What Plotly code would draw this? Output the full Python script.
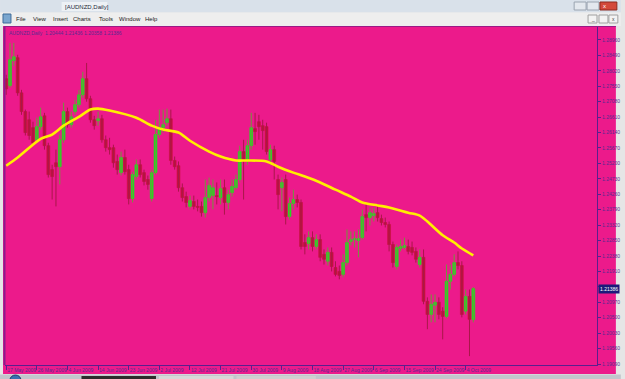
import plotly.graph_objects as go

# ---------------- data (AUDNZD daily) ----------------
opens = [1.2778, 1.2757, 1.2833, 1.2842, 1.2735, 1.2678, 1.2653, 1.2629, 1.2592, 1.2632,
         1.2665, 1.2574, 1.2501, 1.2522, 1.2510, 1.2592, 1.2678, 1.2638, 1.2678, 1.2699,
         1.2729, 1.2778, 1.2717, 1.2653, 1.2650, 1.2656, 1.2592, 1.2568, 1.2568, 1.2526,
         1.2492, 1.2538, 1.2501, 1.2413, 1.2480, 1.2516, 1.2492, 1.2471, 1.2413, 1.2492,
         1.2608, 1.2629, 1.2644, 1.2656, 1.2529, 1.2513, 1.2446, 1.2419, 1.2389, 1.2404,
         1.2389, 1.2389, 1.2370, 1.2416, 1.2422, 1.2422, 1.2416, 1.2446, 1.2401, 1.2431,
         1.2446, 1.2471, 1.2556, 1.2532, 1.2574, 1.2626, 1.2647, 1.2635, 1.2632, 1.2532,
         1.2562, 1.2471, 1.2446, 1.2471, 1.2358, 1.2398, 1.2410, 1.2401, 1.2279, 1.2276,
         1.2294, 1.2267, 1.2288, 1.2243, 1.2222, 1.2249, 1.2203, 1.2191, 1.2182, 1.2218,
         1.2282, 1.2288, 1.2285, 1.2294, 1.2364, 1.2355, 1.2361, 1.2370, 1.2352, 1.2340,
         1.2334, 1.2273, 1.2206, 1.2261, 1.2264, 1.2267, 1.2264, 1.2252, 1.2212, 1.2234,
         1.2100, 1.2060, 1.2088, 1.2097, 1.2070, 1.2054, 1.2161, 1.2182, 1.2218, 1.2209,
         1.2070, 1.2115, 1.20444]
highs = [1.2790, 1.2887, 1.2887, 1.2851, 1.2744, 1.2684, 1.2678, 1.2647, 1.2659, 1.2690,
         1.2674, 1.2583, 1.2516, 1.2562, 1.2608, 1.2705, 1.2690, 1.2678, 1.2714, 1.2744,
         1.2799, 1.2826, 1.2726, 1.2665, 1.2678, 1.2668, 1.2605, 1.2598, 1.2577, 1.2547,
         1.2556, 1.2562, 1.2516, 1.2495, 1.2532, 1.2532, 1.2501, 1.2483, 1.2501, 1.2653,
         1.2684, 1.2684, 1.2687, 1.2684, 1.2541, 1.2526, 1.2459, 1.2434, 1.2422, 1.2422,
         1.2410, 1.2404, 1.2471, 1.2477, 1.2471, 1.2462, 1.2471, 1.2471, 1.2440, 1.2471,
         1.2486, 1.2574, 1.2592, 1.2592, 1.2674, 1.2674, 1.2668, 1.2653, 1.2644, 1.2577,
         1.2574, 1.2486, 1.2477, 1.2486, 1.2416, 1.2440, 1.2425, 1.2410, 1.2304, 1.2313,
         1.2313, 1.2304, 1.2304, 1.2258, 1.2264, 1.2264, 1.2222, 1.2209, 1.2243, 1.2319,
         1.2313, 1.2313, 1.2319, 1.2380, 1.2395, 1.2386, 1.2386, 1.2395, 1.2364, 1.2355,
         1.2343, 1.2282, 1.2273, 1.2288, 1.2294, 1.2288, 1.2282, 1.2264, 1.2258, 1.2258,
         1.2112, 1.2121, 1.2121, 1.2112, 1.2082, 1.2212, 1.2212, 1.2243, 1.2252, 1.2222,
         1.2136, 1.2136, 1.21436]
lows = [1.2729, 1.2750, 1.2817, 1.2726, 1.2668, 1.2605, 1.2592, 1.2574, 1.2583, 1.2623,
        1.2562, 1.2477, 1.2410, 1.2389, 1.2456, 1.2583, 1.2629, 1.2629, 1.2668, 1.2690,
        1.2720, 1.2708, 1.2644, 1.2623, 1.2635, 1.2583, 1.2556, 1.2547, 1.2507, 1.2486,
        1.2483, 1.2486, 1.2395, 1.2401, 1.2471, 1.2477, 1.2453, 1.2440, 1.2404, 1.2486,
        1.2598, 1.2614, 1.2635, 1.2516, 1.2501, 1.2434, 1.2404, 1.2386, 1.2380, 1.2380,
        1.2374, 1.2358, 1.2355, 1.2404, 1.2380, 1.2395, 1.2395, 1.2364, 1.2380, 1.2419,
        1.2440, 1.2462, 1.2410, 1.2516, 1.2562, 1.2577, 1.2592, 1.2562, 1.2547, 1.2516,
        1.2471, 1.2380, 1.2374, 1.2334, 1.2349, 1.2380, 1.2386, 1.2258, 1.2243, 1.2258,
        1.2252, 1.2258, 1.2222, 1.2212, 1.2209, 1.2191, 1.2176, 1.2167, 1.2173, 1.2209,
        1.2270, 1.2264, 1.2234, 1.2288, 1.2313, 1.2331, 1.2343, 1.2343, 1.2331, 1.2325,
        1.2252, 1.2203, 1.2197, 1.2252, 1.2258, 1.2243, 1.2240, 1.2218, 1.2203, 1.2091,
        1.2015, 1.2036, 1.2036, 1.2045, 1.1984, 1.2048, 1.2136, 1.2176, 1.2197, 1.2051,
        1.2060, 1.1933, 1.20358]
closes = [1.2747, 1.2836, 1.2845, 1.2735, 1.2678, 1.2614, 1.2605, 1.2583, 1.2632, 1.2662,
          1.2574, 1.2486, 1.2480, 1.2510, 1.2592, 1.2678, 1.2638, 1.2662, 1.2699, 1.2729,
          1.2778, 1.2717, 1.2653, 1.2635, 1.2656, 1.2592, 1.2568, 1.2562, 1.2522, 1.2501,
          1.2538, 1.2495, 1.2413, 1.2486, 1.2516, 1.2486, 1.2465, 1.2456, 1.2492, 1.2608,
          1.2629, 1.2638, 1.2656, 1.2529, 1.2510, 1.2446, 1.2416, 1.2401, 1.2407, 1.2389,
          1.2386, 1.2370, 1.2416, 1.2453, 1.2446, 1.2419, 1.2443, 1.2401, 1.2425, 1.2450,
          1.2471, 1.2556, 1.2532, 1.2574, 1.2629, 1.2617, 1.2632, 1.2620, 1.2556, 1.2562,
          1.2526, 1.2425, 1.2462, 1.2358, 1.2398, 1.2410, 1.2401, 1.2267, 1.2267, 1.2294,
          1.2267, 1.2288, 1.2234, 1.2228, 1.2249, 1.2206, 1.2182, 1.2179, 1.2218, 1.2279,
          1.2288, 1.2291, 1.2291, 1.2358, 1.2355, 1.2370, 1.2367, 1.2355, 1.2340, 1.2334,
          1.2273, 1.2218, 1.2264, 1.2267, 1.2270, 1.2252, 1.2249, 1.2228, 1.2234, 1.2100,
          1.2060, 1.2091, 1.2097, 1.2060, 1.2054, 1.2161, 1.2182, 1.2218, 1.2209, 1.2060,
          1.2115, 1.2045, 1.21386]

# moving average (yellow), sampled at bar numbers
ma_bar = [0, 3, 9, 12, 15, 19, 22, 24, 27, 34, 38, 41, 45, 48, 53, 56, 60, 63, 68, 71,
          75, 78, 82, 86, 90, 93, 97, 100, 105, 108, 110, 114, 117, 119, 122]
ma_val = [1.2513, 1.2538, 1.2595, 1.2608, 1.2635, 1.2662, 1.2684, 1.2687, 1.2681, 1.2659,
          1.2635, 1.2623, 1.2614, 1.2589, 1.2556, 1.2541, 1.2529, 1.2529, 1.2526, 1.2510,
          1.2492, 1.2480, 1.2462, 1.2440, 1.2419, 1.2401, 1.2392, 1.2386, 1.2370, 1.2361,
          1.2343, 1.2301, 1.2279, 1.2261, 1.2240]

price_ticks = [1.28960, 1.28490, 1.28020, 1.27550, 1.27080, 1.26610, 1.26140, 1.25670,
               1.25200, 1.24730, 1.24260, 1.23790, 1.23320, 1.22850, 1.22380, 1.21910,
               1.21440, 1.20970, 1.20500, 1.20030, 1.19560, 1.19090]
date_tick_bars = [0, 8, 16, 24, 32, 40, 48, 56, 64, 72, 80, 88, 96, 104, 112, 120]
date_tick_text = ["17 May 2009", "26 May 2009", "4 Jun 2009", "14 Jun 2009", "23 Jun 2009",
                  "2 Jul 2009", "12 Jul 2009", "21 Jul 2009", "30 Jul 2009", "9 Aug 2009",
                  "18 Aug 2009", "27 Aug 2009", "6 Sep 2009", "15 Sep 2009", "24 Sep 2009",
                  "4 Oct 2009"]
symbol_title = "AUDNZD,Daily"
menu_items = ["File", "View", "Insert", "Charts", "Tools", "Window", "Help"]

# ---------------- styles ----------------
W, H = 625, 379
PL, PR, PT, PB = 5, 601, 27, 365          # plot area in pixels
PINK = "#ec1a8b"
AXC = "#5a1f8e"
TXT = "#5b2a90"
BULL, BEAR = "#1fe01f", "#c3123c"
BULL_WICK, BEAR_WICK = "#6f9a3c", "#a81848"
FONT = "Liberation Sans"

def px(xp):
    return (xp - PL) / (PR - PL)

def py(yp):
    return (PB - yp) / (PB - PT)

bars = list(range(len(closes)))
up = [c >= o for o, c in zip(opens, closes)]

fig = go.Figure()

# wicks
for flag, col in ((True, BULL_WICK), (False, BEAR_WICK)):
    wx, wy = [], []
    for i in bars:
        if up[i] == flag:
            wx += [i, i, None]
            wy += [lows[i], highs[i], None]
    fig.add_trace(go.Scatter(x=wx, y=wy, mode="lines", line=dict(color=col, width=1),
                             hoverinfo="skip", showlegend=False))

# bodies
for flag, col in ((True, BULL), (False, BEAR)):
    bx = [i for i in bars if up[i] == flag]
    base = [min(opens[i], closes[i]) for i in bx]
    hgt = [abs(closes[i] - opens[i]) for i in bx]
    fig.add_trace(go.Bar(x=bx, y=hgt, base=base, width=0.75,
                         marker=dict(color=col, line=dict(color=col, width=0.6)),
                         showlegend=False, hoverinfo="skip"))

# moving average
fig.add_trace(go.Scatter(x=ma_bar, y=ma_val, mode="lines",
                         line=dict(color="#ffef00", width=2.6, shape="spline", smoothing=0.8),
                         hoverinfo="skip", showlegend=False))

shapes = []
def rect(x0, y0, x1, y1, fill, line=None, lw=0, layer="below"):
    shapes.append(dict(type="rect", xref="paper", yref="paper",
                       x0=px(x0), x1=px(x1), y0=py(y1), y1=py(y0),
                       fillcolor=fill, line=dict(color=line or fill, width=lw), layer=layer))

# window chrome
rect(0, 0, 625, 12.5, "#d9e1ea")
rect(0, 12.5, 625, 26, "#eeeeee")
rect(0, 26, 625, 379, "#e6e6e6")
rect(3, 26, 620, 374, PINK)
rect(0, 374.5, 625, 379, "#c2c6cc")
rect(82, 376, 157, 379, "#2c2c2c")
rect(160, 376, 235, 379, "#d8d8d8")
rect(238, 376, 318, 379, "#d0d0d0")
shapes.append(dict(type="circle", xref="paper", yref="paper", x0=px(10), x1=px(21),
                   y0=py(385), y1=py(375), fillcolor="#3a6fb0", line=dict(color="#1d3c68", width=1)))
rect(62, 2, 108, 11, "#edf1f5")
rect(578, 2, 590, 10, "#e3e8ee", "#9aa4b0", 1)
rect(591, 2, 603, 10, "#e3e8ee", "#9aa4b0", 1)
rect(604, 2, 621, 10, "#d3493b", "#8c2a20", 1)
rect(592, 15, 601, 23, "#f3f3f3", "#a0a0a0", 1)
rect(603, 15, 612, 23, "#f3f3f3", "#a0a0a0", 1)
rect(613, 15, 622, 23, "#f3f3f3", "#a0a0a0", 1)
rect(3, 14, 11, 23, "#7aa6cf", "#3d6b99", 1)
# chart frame
shapes.append(dict(type="line", xref="paper", yref="paper", x0=px(4.5), x1=px(4.5),
                   y0=py(365), y1=py(26.5), line=dict(color="#8a1c8c", width=2)))
shapes.append(dict(type="line", xref="paper", yref="paper", x0=px(4), x1=px(620),
                   y0=py(26.5), y1=py(26.5), line=dict(color="#9a1a86", width=1)))

annotations = []
def label(x, y, text, size=5.5, color="#222222", anchor="left", bg=None):
    annotations.append(dict(x=px(x), y=py(y), xref="paper", yref="paper", text=text,
                            showarrow=False, xanchor=anchor, yanchor="middle",
                            font=dict(family=FONT, size=size, color=color),
                            bgcolor=bg, borderpad=0))

label(64, 6.5, "[" + symbol_title + "]", size=6, color="#1e2a3a")
menu_x = [15, 32, 52, 72, 99, 119, 145]
for mx, name in zip(menu_x, menu_items):
    label(mx, 18.5, name, size=6, color="#1a1a1a")
label(609, 6, "x", size=6, color="#ffffff", anchor="center")
label(617.5, 19, "x", size=5, color="#444444", anchor="center")
label(596.5, 19, "_", size=5, color="#444444", anchor="center")

hdr = symbol_title + "  " + " ".join(f"{v:.5f}" for v in
                                      (opens[-1], highs[-1], lows[-1], closes[-1]))
label(8, 33, hdr, size=5, color=TXT)

# current price tag on the price scale (it covers the scale label beneath it)
annotations.append(dict(x=1.0, y=closes[-1], xref="paper", yref="y",
                        text=f"{closes[-1]:.5f}", showarrow=False, xanchor="left",
                        yanchor="middle", xshift=1,
                        font=dict(family=FONT, size=5, color="#ffffff"),
                        bgcolor="#1d1a7a", borderpad=1))
price_text = []
for v in price_ticks:
    hidden = abs(v - closes[-1]) < 0.0015
    price_text.append("" if hidden else f"{v:.5f}")

fig.update_layout(
    width=W, height=H, autosize=False,
    margin=dict(l=PL, r=W - PR, t=PT, b=H - PB, pad=0),
    paper_bgcolor="#e6e6e6", plot_bgcolor=PINK,
    shapes=shapes, annotations=annotations,
    barmode="overlay", showlegend=False,
    font=dict(family=FONT, size=5, color=TXT),
)
fig.update_xaxes(range=[-0.31, 154.3], showgrid=False, zeroline=False,
                 showline=True, linecolor=AXC, linewidth=1,
                 tickmode="array", tickvals=date_tick_bars, ticktext=date_tick_text,
                 ticks="outside", ticklen=4, tickcolor=AXC, tickwidth=1,
                 ticklabelposition="outside right", tickangle=0,
                 tickfont=dict(family=FONT, size=5, color=TXT), fixedrange=True)
fig.update_yaxes(range=[1.19060, 1.29355], side="right", showgrid=False, zeroline=False,
                 showline=True, linecolor=AXC, linewidth=1,
                 tickmode="array", tickvals=price_ticks, ticktext=price_text,
                 ticks="outside", ticklen=3, tickcolor=AXC, tickwidth=1,
                 tickfont=dict(family=FONT, size=5, color=TXT), fixedrange=True)

fig.write_html("out.html")
